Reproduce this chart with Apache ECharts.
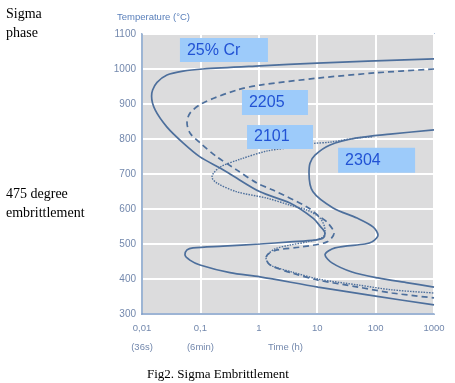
<!DOCTYPE html>
<html>
<head>
<meta charset="utf-8">
<script src="https://cdn.jsdelivr.net/npm/echarts@6/dist/echarts.min.js"></script>
<style>html,body{margin:0;padding:0;background:#fff;}#c{width:455px;height:383px;}</style>
</head>
<body>
<div id="c"></div>
<script>
// ---- data (time in hours, temperature in °C) ----
const timeTicks = [0.01, 0.1, 1, 10, 100, 1000];
const timeTickLabels = ['0,01', '0,1', '1', '10', '100', '1000'];
const timeSubLabels = ['(36s)', '(6min)', '', '', '', ''];
const tempMin = 300, tempMax = 1100, tempStep = 100;

const curve25Cr = [
  [1000, 1029], [10, 1017], [1.05, 1009], [0.11, 1000], [0.0504, 994], [0.0268, 983],
  [0.0181, 962], [0.0152, 940], [0.0146, 922], [0.0168, 883], [0.0268, 834], [0.0504, 789],
  [0.0984, 749], [0.217, 717], [0.321, 700], [1.05, 649], [3.42, 617], [8.47, 574],
  [11.2, 551], [13.6, 531], [12.6, 517], [9.16, 511], [3.42, 506], [1.05, 500],
  [0.244, 494], [0.0746, 489], [0.059, 483], [0.0544, 469], [0.066, 454],
  [0.0984, 440], [0.321, 418], [1.05, 406], [10.3, 377], [100, 351], [1000, 326]
];
const curve2205 = [
  [1000, 1000], [100, 989], [10.3, 974], [1.05, 954], [0.424, 940], [0.111, 903],
  [0.0664, 874], [0.059, 846], [0.0664, 817], [0.0984, 789], [0.192, 749],
  [0.424, 711], [0.931, 674], [1.75, 654], [6.68, 606], [11.2, 577], [14.7, 563],
  [19.4, 531], [14.7, 506], [5.07, 491], [2.05, 483], [1.44, 471], [1.33, 460],
  [1.44, 446], [1.68, 437], [3.7, 417], [10.3, 397], [50, 377], [191, 360], [1000, 346]
];
const curve2101 = [
  [86.7, 806], [48.1, 803], [16.6, 791], [8.47, 787], [3.7, 776], [1.4, 766],
  [0.476, 742], [0.217, 720], [0.164, 700], [0.158, 691], [0.192, 674], [0.424, 649],
  [1.38, 631], [3.42, 611], [6.68, 597], [11.2, 574], [13.6, 540], [12.6, 520],
  [6.68, 506], [3.42, 497], [1.89, 486], [1.44, 471], [1.33, 460], [1.44, 446],
  [1.68, 437], [3.7, 420], [10.3, 400], [50, 383], [191, 369], [1000, 360]
];
const curve2304 = [
  [1000, 826], [177, 814], [48.1, 803], [16.6, 783], [9.16, 754], [7.53, 731],
  [7.24, 703], [8.47, 649], [18.7, 603], [48.1, 574], [90.2, 549], [110, 526],
  [86.7, 506], [65.8, 500], [20.2, 489], [13.6, 469], [17.9, 446], [39.4, 420],
  [110, 403], [359, 389], [1000, 377]
];
const labelNames = ['25% Cr', '2205', '2101', '2304'];
const labelTimes = [0.253, 1.89, 2.31, 104];
const labelTemps = [1054, 904, 806, 739];
const labelBoxSizes = [[88, 24], [66, 25], [66, 24], [77, 25]];

// ---- chart ----
const lineColor = '#4d6f9c';
const tickColor = '#7388ad';
function lineSeries(data, type, width) {
  return {
    type: 'line', data: data, smooth: 0.3, symbol: 'none', z: 3,
    lineStyle: { color: lineColor, width: width, type: type, cap: 'butt' }
  };
}
const serif = { fontFamily: 'Liberation Serif', fontWeight: 'normal', color: '#000' };
const chart = echarts.init(document.getElementById('c'), null, { renderer: 'canvas' });
chart.setOption({
  animation: false,
  backgroundColor: '#ffffff',
  title: [
    { text: 'Temperature (°C)', left: 117, top: 12, padding: 0,
      textStyle: { fontFamily: 'Liberation Sans', fontSize: 9.5, fontWeight: 'normal', color: '#5b80bb' } },
    { text: 'Time (h)', left: 268, top: 342, padding: 0,
      textStyle: { fontFamily: 'Liberation Sans', fontSize: 9.5, fontWeight: 'normal', color: tickColor } },
    { text: 'Sigma\nphase', left: 6, top: 5, padding: 0,
      textStyle: Object.assign({ fontSize: 14, lineHeight: 19 }, serif) },
    { text: '475 degree\nembrittlement', left: 6, top: 185, padding: 0,
      textStyle: Object.assign({ fontSize: 14, lineHeight: 19 }, serif) },
    { text: 'Fig2. Sigma Embrittlement', left: 147, top: 368, padding: 0,
      textStyle: Object.assign({ fontSize: 13 }, serif) }
  ],
  grid: {
    left: 142, right: 21, top: 34, bottom: 69, show: true,
    backgroundColor: '#dcdcdd', borderColor: '#7d9cc6', borderWidth: 1.5
  },
  xAxis: {
    type: 'log', logBase: 10, min: timeTicks[0], max: timeTicks[timeTicks.length - 1],
    axisLine: { show: true, lineStyle: { color: '#7d9cc6', width: 1.5 } },
    axisTick: { show: false },
    splitLine: { show: true, lineStyle: { color: '#ffffff', width: 2 } },
    axisLabel: {
      margin: 8,
      formatter: function (v) {
        const i = Math.round(Math.log10(v)) + 2;
        const sub = timeSubLabels[i] || ' ';
        return '{a|' + (timeTickLabels[i] || '') + '}\n{b|' + sub + '}';
      },
      rich: {
        a: { fontFamily: 'Liberation Sans', fontSize: 9.5, color: tickColor, lineHeight: 12 },
        b: { fontFamily: 'Liberation Sans', fontSize: 9.5, color: tickColor, lineHeight: 26 }
      }
    }
  },
  yAxis: {
    type: 'value', min: tempMin, max: tempMax, interval: tempStep,
    axisLine: { show: true, lineStyle: { color: '#7d9cc6', width: 1.5 } },
    axisTick: { show: false },
    splitLine: { show: true, lineStyle: { color: '#ffffff', width: 2 } },
    axisLabel: { margin: 6, fontFamily: 'Liberation Sans', fontSize: 10, color: tickColor,
      formatter: v => String(v) }
  },
  series: [
    lineSeries(curve25Cr, 'solid', 1.7),
    lineSeries(curve2205, [6, 4], 1.7),
    lineSeries(curve2101, [1.5, 1.2], 1.4),
    lineSeries(curve2304, 'solid', 1.7),
    {
      type: 'scatter', z: 5, silent: true,
      data: labelNames.map((n, i) => ({
        value: [labelTimes[i], labelTemps[i]], name: n, symbolSize: labelBoxSizes[i]
      })),
      symbol: 'rect',
      itemStyle: { color: '#9dcbfa', opacity: 1 },
      label: {
        show: true, position: [7, '50%'], verticalAlign: 'middle', align: 'left',
        formatter: p => p.name,
        fontFamily: 'Liberation Sans', fontSize: 16, color: '#2152d4'
      }
    }
  ]
});
</script>
</body>
</html>
